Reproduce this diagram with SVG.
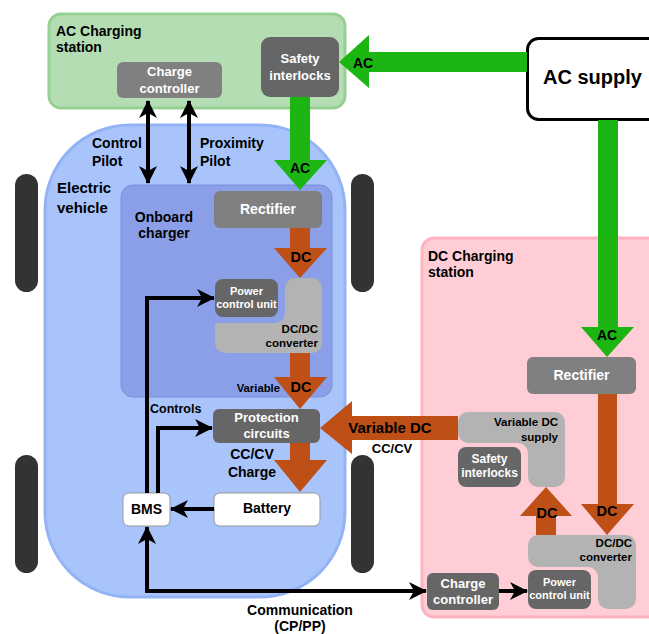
<svg xmlns="http://www.w3.org/2000/svg" width="649" height="634" viewBox="0 0 649 634">
<defs>
<style>
text{font-family:"Liberation Sans",Arial,sans-serif;font-weight:bold;fill:#000}
.w{fill:#fff}
.dk{fill:#666666}
.md{fill:#808080}
.lt{fill:#b3b3b3}
.wheel{fill:#333333}
.green{fill:#1cb512}
.orange{fill:#bd4f17}
.conn{fill:none;stroke:#000;stroke-width:4}
.c{text-anchor:middle}
.r{text-anchor:end}
</style>
<marker id="ah" markerUnits="userSpaceOnUse" markerWidth="18" markerHeight="18" viewBox="0 0 18 18" refX="17" refY="9" orient="auto-start-reverse">
<path d="M0,0 L18,9 L0,18 L5,9 Z" fill="#000"/>
</marker>
</defs>

<!-- wheels -->
<g id="wheels">
<rect class="wheel" x="15" y="174" width="23" height="118" rx="11.5"/>
<rect class="wheel" x="15" y="455" width="23" height="118" rx="11.5"/>
<rect class="wheel" x="351" y="174" width="23" height="118" rx="11.5"/>
<rect class="wheel" x="351" y="455" width="23" height="118" rx="11.5"/>
</g>

<!-- AC charging station -->
<g id="ac-station">
<rect x="49" y="14" width="296" height="94" rx="12" fill="#b5ddb3" stroke="#97d093" stroke-width="3"/>
<text x="56" y="36" font-size="14">AC Charging</text>
<text x="56" y="52" font-size="14">station</text>
</g>
<g id="ac-charge-controller">
<rect class="md" x="117" y="62" width="105" height="36" rx="6"/>
<text class="w c" x="169.5" y="76" font-size="13">Charge</text>
<text class="w c" x="169.5" y="93" font-size="13">controller</text>
</g>
<g id="ac-safety">
<rect class="dk" x="261" y="37" width="78" height="60" rx="9"/>
<text class="w c" x="300" y="63" font-size="13">Safety</text>
<text class="w c" x="300" y="80" font-size="13">interlocks</text>
</g>

<!-- AC supply -->
<g id="ac-supply">
<rect x="527.5" y="38.5" width="140" height="81" rx="11" fill="#fff" stroke="#000" stroke-width="3"/>
<text x="543" y="84" font-size="20">AC supply</text>
</g>

<!-- Electric vehicle -->
<g id="ev">
<rect x="45" y="125" width="300" height="472" rx="85" fill="#a9c4fb" stroke="#93b3f6" stroke-width="3"/>
<text x="57" y="193" font-size="15">Electric</text>
<text x="57" y="213" font-size="15">vehicle</text>
</g>
<g id="onboard-charger">
<rect x="121" y="185" width="211" height="212" rx="12" fill="#8a9fe8" stroke="#7b90d9" stroke-width="1"/>
<text class="c" x="164" y="222" font-size="14" fill="#111">Onboard</text>
<text class="c" x="164" y="238" font-size="14">charger</text>
</g>
<g id="ev-rectifier">
<rect class="md" x="214" y="191" width="108" height="37" rx="6"/>
<text class="w c" x="268" y="214" font-size="14">Rectifier</text>
</g>
<g id="ev-dcdc">
<path class="lt" d="M 295 278 H 312 A 10 10 0 0 1 322 288 V 343 A 10 10 0 0 1 312 353 H 225 A 10 10 0 0 1 215 343 V 323 H 275 A 10 10 0 0 0 285 313 V 288 A 10 10 0 0 1 295 278 Z"/>
<text class="r" x="318" y="333" font-size="11.5">DC/DC</text>
<text class="r" x="318" y="347" font-size="11.5">converter</text>
</g>
<g id="ev-pcu">
<rect class="dk" x="215" y="279" width="63" height="38" rx="8"/>
<text class="w c" x="246.5" y="295" font-size="11">Power</text>
<text class="w c" x="246.5" y="308" font-size="11">control unit</text>
</g>
<g id="protection">
<rect class="dk" x="213" y="409" width="107" height="34" rx="6"/>
<text class="w c" x="266.5" y="422" font-size="13">Protection</text>
<text class="w c" x="266.5" y="438" font-size="13">circuits</text>
</g>
<g id="battery">
<rect x="214" y="493" width="106" height="33" rx="6" fill="#fff" stroke="#999" stroke-width="1"/>
<text class="c" x="267" y="513" font-size="14">Battery</text>
</g>
<g id="bms">
<rect x="123" y="493" width="47" height="33" rx="6" fill="#fff" stroke="#999" stroke-width="1"/>
<text class="c" x="146.5" y="514" font-size="14">BMS</text>
</g>

<!-- DC charging station -->
<g id="dc-station">
<rect x="422" y="238" width="240" height="379" rx="12" fill="#ffcdd5" stroke="#ffb3bf" stroke-width="3"/>
<text x="428" y="261" font-size="14">DC Charging</text>
<text x="428" y="277" font-size="14">station</text>
</g>
<g id="dc-rectifier">
<rect class="md" x="527" y="357" width="109" height="37" rx="6"/>
<text class="w c" x="581.5" y="380" font-size="14">Rectifier</text>
</g>
<g id="dc-variable-supply">
<path class="lt" d="M 468 412 H 555 A 10 10 0 0 1 565 422 V 477 A 10 10 0 0 1 555 487 H 538 A 10 10 0 0 1 528 477 V 453 A 10 10 0 0 0 518 443 H 468 A 10 10 0 0 1 458 433 V 422 A 10 10 0 0 1 468 412 Z"/>
<text class="r" x="558" y="426" font-size="11.5">Variable DC</text>
<text class="r" x="558" y="441" font-size="11.5">supply</text>
</g>
<g id="dc-safety">
<rect class="dk" x="458" y="447" width="63" height="40" rx="8"/>
<text class="w c" x="489.5" y="463" font-size="12">Safety</text>
<text class="w c" x="489.5" y="477" font-size="12">interlocks</text>
</g>
<g id="dc-dcdc">
<path class="lt" d="M 538 535 H 626 A 10 10 0 0 1 636 545 V 599 A 10 10 0 0 1 626 609 H 608 A 10 10 0 0 1 598 599 V 577 A 10 10 0 0 0 588 567 H 538 A 10 10 0 0 1 528 557 V 545 A 10 10 0 0 1 538 535 Z"/>
<text class="r" x="632" y="547" font-size="11.5">DC/DC</text>
<text class="r" x="632" y="561" font-size="11.5">converter</text>
</g>
<g id="dc-pcu">
<rect class="dk" x="528" y="570" width="63" height="39" rx="8"/>
<text class="w c" x="559.5" y="586" font-size="11">Power</text>
<text class="w c" x="559.5" y="599" font-size="11">control unit</text>
</g>
<g id="dc-charge-controller">
<rect class="dk" x="427" y="573" width="72" height="37" rx="6"/>
<text class="w c" x="463" y="588" font-size="13">Charge</text>
<text class="w c" x="463" y="604" font-size="13">controller</text>
</g>

<!-- connectors -->
<g id="connectors">
<!-- green AC arrows -->
<polygon class="green" points="527,52 369,52 369,35 339,62 369,88 369,72 527,72"/>
<polygon class="green" points="290,97 310,97 310,160 327,160 300,190 274,160 290,160"/>
<polygon class="green" points="598,120 618,120 618,327 634,327 607,357 581,327 598,327"/>
<!-- orange DC arrows -->
<polygon class="orange" points="290,228 310,228 310,248 327,248 300,278 274,248 290,248"/>
<polygon class="orange" points="290,353 310,353 310,377 327,377 300,409 274,377 290,377"/>
<polygon class="orange" points="290,443 310,443 310,460 327,460 300,492 274,460 290,460"/>
<polygon class="orange" points="458,416 352,416 352,401 320,428 352,454 352,440 458,440"/>
<polygon class="orange" points="598,394 617,394 617,504 634,504 607,535 581,504 598,504"/>
<polygon class="orange" points="536,535 556,535 556,516 572,516 546,487 520,516 536,516"/>
<!-- black signal lines -->
<path class="conn" d="M 148 101 V 183" marker-start="url(#ah)" marker-end="url(#ah)"/>
<path class="conn" d="M 189 101 V 183" marker-start="url(#ah)" marker-end="url(#ah)"/>
<path class="conn" d="M 147 493 V 298 H 214" marker-end="url(#ah)"/>
<path class="conn" d="M 158 493 V 428 H 212" marker-end="url(#ah)"/>
<path class="conn" d="M 214 509 H 171" marker-end="url(#ah)"/>
<path class="conn" d="M 426 591 H 147 V 527" marker-start="url(#ah)" marker-end="url(#ah)"/>
<path class="conn" d="M 499 591 H 527" marker-end="url(#ah)"/>
</g>

<!-- labels -->
<g id="labels">
<text class="c" x="363" y="68" font-size="14">AC</text>
<text class="c" x="300" y="173" font-size="14">AC</text>
<text class="c" x="607" y="340" font-size="14">AC</text>
<text x="92" y="148" font-size="14">Control</text>
<text x="92" y="166" font-size="14">Pilot</text>
<text x="200" y="148" font-size="14">Proximity</text>
<text x="200" y="166" font-size="14">Pilot</text>
<text class="c" x="301" y="262" font-size="14.5">DC</text>
<text class="c" x="301" y="392" font-size="14.5">DC</text>
<text class="r" x="280" y="392" font-size="11.3">Variable</text>
<text x="150" y="413" font-size="12.5">Controls</text>
<text class="c" x="252" y="459" font-size="14">CC/CV</text>
<text class="c" x="252" y="477" font-size="14">Charge</text>
<text class="c" x="390" y="433" font-size="15">Variable DC</text>
<text class="c" x="392" y="453" font-size="13">CC/CV</text>
<text class="c" x="607" y="516" font-size="14.5">DC</text>
<text class="c" x="547" y="518" font-size="14.5">DC</text>
<text class="c" x="300" y="615" font-size="14">Communication</text>
<text class="c" x="300" y="631" font-size="14">(CP/PP)</text>
</g>
</svg>
